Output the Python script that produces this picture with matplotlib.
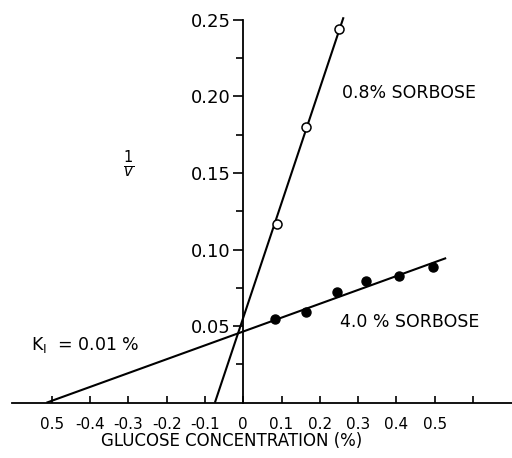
import numpy as np
import matplotlib; matplotlib.use('Agg')
import matplotlib.pyplot as plt
from matplotlib.ticker import FixedLocator

# 0.8 % sorbose (open circles)
glc_08 = [0.087, 0.165, 0.250]
inv_v_08 = [0.1167, 0.180, 0.2439]
fit_08 = (0.749, 0.0555)          # slope, intercept
fit_08_x = (-0.0741, 0.262)

# 4.0 % sorbose (filled circles)
glc_40 = [0.083, 0.165, 0.245, 0.320, 0.406, 0.496]
inv_v_40 = [0.0546, 0.0592, 0.0721, 0.0795, 0.0825, 0.0884]
fit_40 = (0.0905, 0.0465)
fit_40_x = (-0.514, 0.53)

x_ticks = [-0.5, -0.4, -0.3, -0.2, -0.1, 0, 0.1, 0.2, 0.3, 0.4, 0.5, 0.6]
x_ticklabels = ['0.5', '-0.4', '-0.3', '-0.2', '-0.1', '0', '0.1', '0.2', '0.3', '0.4', '0.5', '']
y_ticks = [0.05, 0.10, 0.15, 0.20, 0.25]
y_ticklabels = ['0.05', '0.10', '0.15', '0.20', '0.25']
y_minor = [0.025, 0.075, 0.125, 0.175, 0.225]

plt.rcParams['font.family'] = ['DejaVu Sans']

fig = plt.figure(figsize=(5.12, 4.58), dpi=100)
ax = fig.add_axes([12 / 512, 55.3 / 458, 500 / 512, 402.7 / 458])
ax.set_xlim(-0.604, 0.702)
ax.set_ylim(0, 0.263)

for (m, b), (x0, x1) in [(fit_08, fit_08_x), (fit_40, fit_40_x)]:
    xs = np.array([x0, x1])
    ax.plot(xs, m * xs + b, color='black', lw=1.5, solid_capstyle='butt', zorder=2)

ax.plot(glc_08, inv_v_08, 'o', ms=6.5, mfc='white', mec='black', mew=1.1, zorder=3)
ax.plot(glc_40, inv_v_40, 'o', ms=6.5, mfc='black', mec='black', zorder=3)

for s in ['top', 'right']:
    ax.spines[s].set_visible(False)
ax.spines['left'].set_position(('data', 0))
ax.spines['left'].set_bounds(0, 0.25)
ax.spines['bottom'].set_position(('data', 0))
for s in ['left', 'bottom']:
    ax.spines[s].set_linewidth(1.3)

ax.set_xticks(x_ticks)
ax.set_xticklabels(x_ticklabels, fontsize=11)
ax.tick_params(axis='x', direction='in', length=5, width=1.2, pad=10)
ax.set_yticks(y_ticks)
ax.set_yticklabels(y_ticklabels, fontsize=13)
ax.yaxis.set_minor_locator(FixedLocator(y_minor))
ax.tick_params(axis='y', which='major', direction='out', length=7, width=1.2, pad=2)
ax.tick_params(axis='y', which='minor', direction='out', length=5, width=1.2)

ax.text(0.44, -0.095, 'GLUCOSE CONCENTRATION (%)', transform=ax.transAxes,
        ha='center', va='center', fontsize=12)
ax.text(-0.30, 0.1555, r'$\frac{1}{v}$', ha='center', va='center', fontsize=15)
ax.text(0.258, 0.2025, '0.8% SORBOSE', ha='left', va='center', fontsize=12.5)
ax.text(0.252, 0.0527, '4.0 % SORBOSE', ha='left', va='center', fontsize=12.5)
ax.text(-0.555, 0.0375, r'K$_\mathregular{I}$  = 0.01 %', ha='left', va='center', fontsize=12.5)

fig.savefig('out.png', dpi=100)
